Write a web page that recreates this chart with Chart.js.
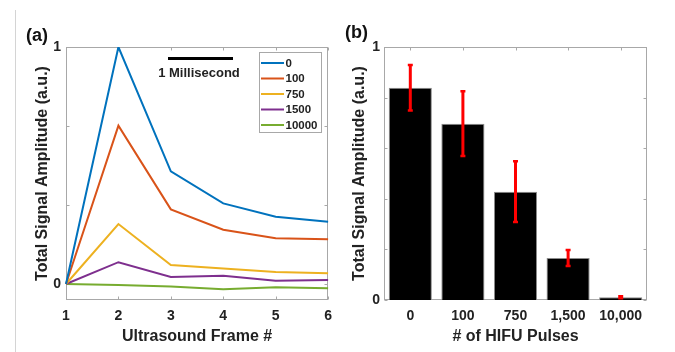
<!DOCTYPE html>
<html lang="en">
<head>
  <meta charset="UTF-8" />
  <title>Total signal amplitude vs HIFU pulses</title>
  <script src="https://cdn.jsdelivr.net/npm/chart.js"></script>
  <style>
    body {
      margin: 0;
      background-color: #fff;
    }

    #wrap {
      position: relative;
      width: 675px;
      height: 352px;
    }

    #edge {
      position: absolute;
      left: 15px;
      top: 10px;
      width: 1px;
      height: 342px;
      background-color: #d4d4d4;
    }

    canvas {
      position: absolute;
      top: 0;
    }

    #lineChart { left: 0; }
    #barChart { left: 340px; }

    .tag {
      position: absolute;
      font: bold 18px "Liberation Sans", Arial, sans-serif;
      line-height: 18px;
      color: #111;
    }
  </style>
</head>
<body>
  <div id="wrap">
    <div id="edge"></div>
    <canvas id="lineChart" width="340" height="352"></canvas>
    <canvas id="barChart" width="335" height="352"></canvas>
    <div class="tag" style="left:26px; top:26px;">(a)</div>
    <div class="tag" style="left:345px; top:23px;">(b)</div>
  </div>

  <script>
    // (a) signal per ultrasound frame, one line per HIFU pulse count
    const frames = ['1', '2', '3', '4', '5', '6'];
    const pulseGroups = ['0', '100', '750', '1500', '10000'];
    const amp0 = [0, 1.0, 0.475, 0.34, 0.284, 0.263];
    const amp100 = [0, 0.668, 0.315, 0.229, 0.193, 0.189];
    const amp750 = [0, 0.253, 0.08, 0.065, 0.051, 0.045];
    const amp1500 = [0, 0.092, 0.03, 0.035, 0.014, 0.017];
    const amp10000 = [0, -0.004, -0.011, -0.022, -0.014, -0.018];
    const lineTicks = [0, 0.333, 0.667, 1];
    const lineTickLabels = ['0', '', '', '1'];

    // (b) mean amplitude per pulse count with error bars
    const pulseLabels = ['0', '100', '750', '1,500', '10,000'];
    const meanAmp = [0.839, 0.697, 0.428, 0.166, 0.011];
    const errAmp = [0.09, 0.128, 0.12, 0.032, 0.004];
    const barTicks = [0, 0.2, 0.4, 0.6, 0.8, 1];
    const barTickLabels = ['0', '', '', '', '', '1'];

    const lineColors = ['#0072BD', '#D95319', '#EDB120', '#7E2F8E', '#77AC30'];
    const FONT = '"Liberation Sans", Arial, sans-serif';
    const TEXT = '#222';
    const AXIS = '#a8a8a8';

    Chart.defaults.font.family = FONT;
    Chart.defaults.color = TEXT;

    // matlab style box with inward ticks
    const boxPlugin = {
      id: 'box',
      beforeDatasetsDraw(chart) {
        const { ctx, chartArea: a, scales: { x, y } } = chart;
        const l = Math.round(a.left) + 0.5, r = Math.round(a.right) - 0.5;
        const t = Math.round(a.top) + 0.5, b = Math.round(a.bottom) - 0.5;
        ctx.save();
        ctx.strokeStyle = AXIS;
        ctx.lineWidth = 1;
        ctx.strokeRect(l, t, r - l, b - t);
        ctx.beginPath();
        y.ticks.forEach(tk => {
          const py = Math.round(y.getPixelForValue(tk.value)) + 0.5;
          ctx.moveTo(l, py); ctx.lineTo(l + 3, py);
          ctx.moveTo(r, py); ctx.lineTo(r - 3, py);
        });
        x.ticks.forEach((tk, i) => {
          const px = Math.round(x.getPixelForTick(i)) + 0.5;
          ctx.moveTo(px, b); ctx.lineTo(px, b - 3);
          ctx.moveTo(px, t); ctx.lineTo(px, t + 3);
        });
        ctx.stroke();
        ctx.restore();
      }
    };

    const legendPlugin = {
      id: 'boxLegend',
      afterDraw(chart) {
        const ctx = chart.ctx;
        ctx.save();
        ctx.fillStyle = '#fff';
        ctx.fillRect(259.5, 52.5, 62, 80);
        ctx.strokeStyle = AXIS;
        ctx.lineWidth = 1;
        ctx.strokeRect(259.5, 52.5, 62, 80);
        ctx.font = 'bold 11.5px ' + FONT;
        ctx.textBaseline = 'middle';
        ctx.fillStyle = TEXT;
        chart.data.datasets.forEach((ds, i) => {
          const yy = 63 + i * 15.5;
          ctx.strokeStyle = ds.borderColor;
          ctx.lineWidth = 2;
          ctx.beginPath();
          ctx.moveTo(261, yy); ctx.lineTo(284, yy);
          ctx.stroke();
          ctx.fillText(ds.label, 285.5, yy + 0.5);
        });
        // time scale bar
        ctx.strokeStyle = '#000';
        ctx.lineWidth = 3;
        ctx.beginPath();
        ctx.moveTo(168, 58.5); ctx.lineTo(233, 58.5);
        ctx.stroke();
        ctx.font = 'bold 13px ' + FONT;
        ctx.textAlign = 'center';
        ctx.fillText('1 Millisecond', 199, 73.5);
        ctx.restore();
      }
    };

    const errorBarPlugin = {
      id: 'errorBars',
      afterDatasetsDraw(chart) {
        const { ctx, scales: { x, y } } = chart;
        ctx.save();
        ctx.strokeStyle = '#ff0000';
        meanAmp.forEach((m, i) => {
          const px = x.getPixelForValue(i);
          const top = y.getPixelForValue(m + errAmp[i]);
          const bot = y.getPixelForValue(m - errAmp[i]);
          ctx.lineWidth = 3;
          ctx.beginPath();
          ctx.moveTo(px, top); ctx.lineTo(px, bot);
          ctx.stroke();
          ctx.lineWidth = 2.5;
          ctx.beginPath();
          ctx.moveTo(px - 2.5, top); ctx.lineTo(px + 2.5, top);
          ctx.moveTo(px - 2.5, bot); ctx.lineTo(px + 2.5, bot);
          ctx.stroke();
        });
        ctx.restore();
      }
    };

    function yAxis(width, titlePad, labelPad, min, ticks, labels) {
      return {
        min: min,
        max: 1,
        afterFit: s => { s.width = width; },
        afterBuildTicks: s => { s.ticks = ticks.map(v => ({ value: v })); },
        grid: { display: false, drawTicks: false },
        border: { display: false },
        ticks: {
          padding: labelPad,
          font: { size: 14, weight: 'bold' },
          callback: (v, i) => labels[i]
        },
        title: {
          display: true,
          text: 'Total Signal Amplitude (a.u.)',
          font: { size: 16, weight: 'bold' },
          padding: { top: titlePad, bottom: 0 }
        }
      };
    }

    function xAxis(title, offset) {
      return {
        offset: offset,
        afterFit: s => { s.height = 52; },
        grid: { display: false, drawTicks: false },
        border: { display: false },
        ticks: {
          padding: 8,
          maxRotation: 0,
          autoSkip: false,
          font: { size: 14, weight: 'bold' }
        },
        title: {
          display: true,
          text: title,
          font: { size: 16, weight: 'bold' },
          padding: { top: 0, bottom: 6 }
        }
      };
    }

    const series = [amp0, amp100, amp750, amp1500, amp10000];

    new Chart(document.getElementById('lineChart'), {
      type: 'line',
      data: {
        labels: frames,
        datasets: series.map((d, i) => ({
          label: pulseGroups[i],
          data: d,
          borderColor: lineColors[i],
          borderWidth: 2,
          pointRadius: 0,
          tension: 0
        }))
      },
      options: {
        responsive: false,
        animation: false,
        layout: { padding: { left: 0, right: 11, top: 47, bottom: 0 } },
        plugins: { legend: { display: false }, tooltip: { enabled: false } },
        scales: {
          x: xAxis('Ultrasound Frame #', false),
          y: yAxis(66, 33, 5, -0.0675, lineTicks, lineTickLabels)
        }
      },
      plugins: [boxPlugin, legendPlugin]
    });

    new Chart(document.getElementById('barChart'), {
      type: 'bar',
      data: {
        labels: pulseLabels,
        datasets: [{
          data: meanAmp,
          backgroundColor: '#000',
          borderColor: '#8c8c8c',
          borderWidth: 1,
          categoryPercentage: 1,
          barPercentage: 0.82
        }]
      },
      options: {
        responsive: false,
        animation: false,
        layout: { padding: { left: 0, right: 28, top: 47, bottom: 0 } },
        plugins: { legend: { display: false }, tooltip: { enabled: false } },
        scales: {
          x: xAxis('# of HIFU Pulses', true),
          y: yAxis(44, 10, 4, 0, barTicks, barTickLabels)
        }
      },
      plugins: [boxPlugin, errorBarPlugin]
    });
  </script>
</body>
</html>
